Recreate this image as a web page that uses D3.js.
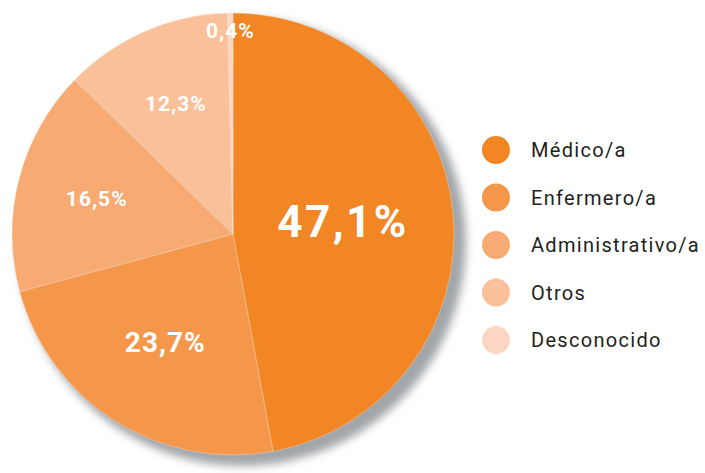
<!DOCTYPE html>
<html>
<head>
<meta charset="utf-8">
<script src="https://cdn.jsdelivr.net/npm/d3@7"></script>
<style>
  body { margin: 0; background: #fff; }
  svg { display: block; }
</style>
</head>
<body>
<svg id="chart" width="705" height="473"></svg>
<script>
const categories = ["Médico/a", "Enfermero/a", "Administrativo/a", "Otros", "Desconocido"];
const values = [47.1, 23.7, 16.5, 12.3, 0.4];
const labels = ["47,1%", "23,7%", "16,5%", "12,3%", "0,4%"];
const colors = ["#F28524", "#F5974B", "#F7AB72", "#F9C099", "#FCD6C3"];
const labelSizes = [44, 28, 21, 21, 21];

const svg = d3.select("#chart");
const cx = 233, cy = 234, radius = 221;

const defs = svg.append("defs");
const blur = defs.append("filter").attr("id", "shadow")
  .attr("x", "-20%").attr("y", "-20%").attr("width", "140%").attr("height", "140%");
blur.append("feGaussianBlur").attr("stdDeviation", 4);

const g = svg.append("g").attr("transform", `translate(${cx},${cy})`);

// soft grey shadow behind the pie
g.append("circle")
  .attr("cx", 9).attr("cy", 8).attr("r", radius + 3)
  .attr("fill", "#a3a6a9")
  .attr("filter", "url(#shadow)");

const pie = d3.pie().sort(null).value(d => d)
const arcs = pie(values);
const arc = d3.arc().innerRadius(0).outerRadius(radius);

g.selectAll("path.slice")
  .data(arcs)
  .enter().append("path")
    .attr("class", "slice")
    .attr("d", arc)
    .attr("fill", (d, i) => colors[i])
    .attr("stroke", "rgba(255,255,255,0.35)")
    .attr("stroke-width", 0.8);

// label positions as radius fraction per slice
const labelR = [0.5, 0.575, 0.637, 0.647, 0.923];
g.selectAll("text.lab")
  .data(arcs)
  .enter().append("text")
    .attr("class", "lab")
    .attr("transform", (d, i) => {
      const a = (d.startAngle + d.endAngle) / 2;
      const r = radius * labelR[i];
      return `translate(${Math.sin(a) * r},${-Math.cos(a) * r})`;
    })
    .attr("text-anchor", "middle")
    .attr("dy", (d, i) => i === 0 ? "0.3em" : "0.36em")
    .attr("fill", "#fff")
    .attr("font-family", "Roboto, sans-serif")
    .attr("font-weight", "bold")
    .attr("letter-spacing", (d, i) => i === 0 ? 2.5 : 1)
    .attr("font-size", (d, i) => labelSizes[i])
    .text((d, i) => labels[i]);

// legend
const legY = d3.scalePoint().domain(categories).range([150, 340]);
const leg = svg.append("g").selectAll("g")
  .data(categories)
  .enter().append("g")
    .attr("transform", d => `translate(496,${legY(d)})`);
leg.append("circle").attr("r", 14).attr("fill", (d, i) => colors[i]);
leg.append("text")
  .attr("x", 35)
  .attr("dy", "0.36em")
  .attr("fill", "#231F20")
  .attr("font-family", "Roboto, sans-serif")
  .attr("font-size", 20)
  .attr("letter-spacing", 1.3)
  .text(d => d);
</script>
</body>
</html>
